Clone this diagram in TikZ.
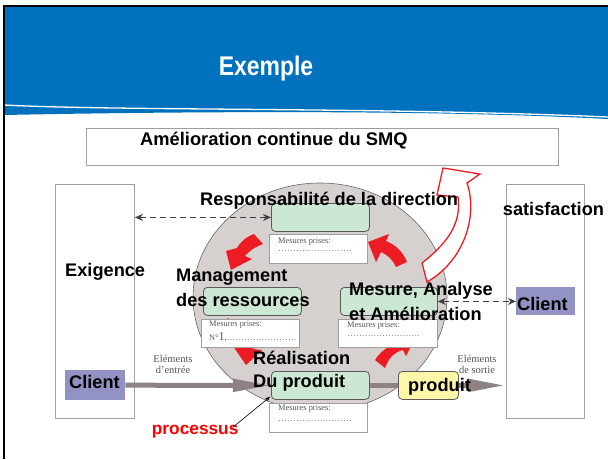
\documentclass[tikz,border=0pt]{standalone}
\usepackage{fontspec}
\setmainfont{Liberation Serif}
\newfontfamily\headfont{Liberation Sans}
\usetikzlibrary{arrows.meta}

\definecolor{headblue}{HTML}{0071BC}
\definecolor{ellgray}{HTML}{D6D0CE}
\definecolor{boxgreen}{HTML}{CDE7D5}
\definecolor{boxedge}{HTML}{5A5A5A}
\definecolor{clientpurple}{HTML}{9292C4}
\definecolor{prodyellow}{HTML}{FFF7A8}
\definecolor{flowgray}{HTML}{8F8282}
\definecolor{arrowred}{HTML}{EC1C24}
\definecolor{framegray}{HTML}{A0A0A0}
\definecolor{notetext}{HTML}{555555}

% dot leaders of a given width
\newcommand{\dotrow}[1]{\makebox[#1][l]{\xleaders\hbox to 2.9pt{\hss.\hss}\hfill}}

\tikzset{
  lbl/.style={font=\headfont\bfseries\fontsize{18.2}{21}\selectfont, inner sep=0pt, anchor=base west},
  note/.style={font=\fontsize{8.4}{10}\selectfont, text=notetext, inner sep=0pt, anchor=base west},
  small/.style={font=\fontsize{10.5}{12}\selectfont, text=notetext, inner sep=0pt, anchor=base},
  frame/.style={draw=framegray, fill=white, line width=0.9pt, anchor=north west, inner sep=0pt},
  greenbox/.style={draw=boxedge, fill=boxgreen, rounded corners=4pt, line width=0.8pt, anchor=north west, inner sep=0pt},
  notebox/.style={draw=gray!75, fill=white, line width=0.8pt, anchor=north west, inner sep=0pt},
  clientbox/.style={fill=clientpurple, anchor=north west, inner sep=0pt},
  prodbox/.style={draw=boxedge, fill=prodyellow, rounded corners=4pt, line width=0.8pt, anchor=north west, inner sep=0pt},
  redarrow/.style={fill=arrowred},
  flow/.style={draw=flowgray, line width=5pt, -{Triangle[length=38pt,width=12pt]}},
  link/.style={draw=black!75, line width=1.7pt, dash pattern=on 6pt off 4pt, {Stealth[length=8pt,width=7pt]}-{Stealth[length=8pt,width=7pt]}},
}

\begin{document}
\begin{tikzpicture}[x=1pt,y=-1pt]
\useasboundingbox (0,0) rectangle (608,459);
\fill[white] (0,0) rectangle (608,459);

% header band
\fill[headblue] (4,7) -- (608,7) -- (608,119) .. controls (420,109) and (150,112) .. (4,115) -- cycle;
\draw[white, line width=1.3pt] (4,105) .. controls (120,111) and (380,107) .. (608,117);
\node[font=\headfont\bfseries\fontsize{27}{30}\selectfont, text=white, anchor=base, inner sep=0pt] (title) at (266,75) {\scalebox{0.85}[1]{Exemple}};

% slide frame
\draw[black, line width=2.2pt] (4,459) -- (4,6) -- (608,6);

% top box
\node[frame, minimum width=472pt, minimum height=37pt] (amel) at (86,128) {};
\node[font=\headfont\bfseries\fontsize{18.3}{21}\selectfont, inner sep=0pt, anchor=base west] (ameltxt) at (140,145) {Amélioration continue du SMQ};

% side boxes
\node[frame, minimum width=79pt, minimum height=234pt] (leftbox) at (55,184) {};
\node[frame, minimum width=78pt, minimum height=234pt] (rightbox) at (506,184) {};

% process disc
\fill[ellgray] (320,297) ellipse [x radius=127, y radius=114];
\draw[gray!80!black, line width=0.6pt] (320,297) ellipse [x radius=127, y radius=114];

% cycle arrows
\fill[redarrow] (254,234) .. controls (246,237) and (240,242) .. (237,248) -- (226,251) -- (231,270) -- (252,259) -- (245,256) .. controls (249,251) and (255,247) .. (263,244) -- cycle;
\fill[redarrow] (368,242) -- (389,234) -- (386,241) .. controls (396,245) and (403,252) .. (407,262) -- (396,267) .. controls (393,260) and (388,255) .. (381,252) -- (376,262) -- cycle;
\fill[redarrow] (222,328) .. controls (230,332) and (236,338) .. (240,347) -- (233,346) -- (246,365) -- (262,350) -- (253,349) .. controls (249,337) and (240,326) .. (228,318) -- cycle;
\fill[redarrow] (375,360) .. controls (380,352) and (388,346) .. (398,343) -- (395,336) -- (415,338) -- (406,356) -- (403,350) .. controls (395,352) and (389,357) .. (385,368) -- cycle;

% continual improvement arrow
\draw[arrowred, fill=white, line width=1.3pt, line join=miter]
  (422,263) .. controls (445,245) and (462,225) .. (458,197) -- (437,195) -- (443,168) -- (480,174) -- (467,183)
  .. controls (478,215) and (465,260) .. (427,282) -- cycle;

% boxes
\node[clientbox, minimum width=60pt, minimum height=30pt] (clientL) at (65,370) {};
\node[clientbox, minimum width=59pt, minimum height=28pt] (clientR) at (516,287) {};
\node[greenbox, minimum width=98pt, minimum height=28pt] (resp) at (271,203) {};
\node[greenbox, minimum width=98pt, minimum height=28pt] (mgmt) at (203,287) {};
\node[greenbox, minimum width=97pt, minimum height=28pt] (mes) at (340,287) {};
\node[greenbox, minimum width=98pt, minimum height=28pt] (real) at (271,371) {};

% flows in and out
\draw[flow] (clientL.east) -- (real.west);
\draw[flow] (real.east) -- (real.east -| rightbox.west);
\node[prodbox, minimum width=60pt, minimum height=28pt] (prod) at (398,371) {};

% measure notes
\node[notebox, minimum width=98pt, minimum height=29pt] (note1) at (269,234) {};
\node[notebox, minimum width=98pt, minimum height=28pt] (note2) at (201,319) {};
\node[notebox, minimum width=99pt, minimum height=28pt] (note3) at (338,319) {};
\node[notebox, minimum width=98pt, minimum height=29pt] (note4) at (269,403) {};

\node[note] (n1a) at (278,243.3) {Mesures prises:};
\node[note] (n1b) at (278,251.7) {\dotrow{74pt}};
\node[note] (n2a) at (209,326.7) {Mesures prises:};
\node[note] (n2b) at (209,340) {N°{\fontsize{12}{12}\selectfont 1},\dotrow{70pt}};
\node[note] (n3a) at (347,327.5) {Mesures prises:};
\node[note] (n3b) at (347,336.7) {\dotrow{73pt}};
\node[note] (n4a) at (278,410.7) {Mesures prises:};
\node[note] (n4b) at (278,421.7) {\dotrow{74pt}};

% information links
\draw[link] (resp.west) -- (resp.west -| leftbox.east);
\draw[link] (mes.east) -- (mes.east -| clientR.west);

% labels
\node[lbl] (tresp) at (200,205) {Responsabilité de la direction};
\node[lbl] (texig) at (65,276.7) {Exigence};
\node[lbl] (tmg1) at (176,281.7) {Management};
\node[lbl] (tmg2) at (176,306) {des ressources};
\node[lbl] (tmes1) at (349,295) {Mesure, Analyse};
\node[lbl] (tmes2) at (349,320.5) {et Amélioration};
\node[lbl] (treal1) at (253,364) {Réalisation};
\node[lbl] (treal2) at (253,387) {Du produit};
\node[lbl] (tprod) at (408,391.7) {produit};
\node[lbl] (tsat) at (502.7,215) {satisfaction};
\node[lbl] (tcliR) at (517,310.7) {Client};
\node[lbl] (tcliL) at (69,388) {Client};
\node[lbl, text=red, font=\headfont\bfseries\fontsize{17.3}{20}\selectfont] (proc) at (151.7,434) {processus};

\node[small] (in1) at (173,362) {Eléments};
\node[small] (in2) at (173,373) {d'entrée};
\node[small] (out1) at (477,362) {Eléments};
\node[small] (out2) at (477,373) {de sortie};

% pointer from the process label
\draw[black, line width=0.6pt, -{Stealth[length=5pt,width=4pt]}] ([xshift=-6pt,yshift=-3pt]proc.north east) -- ([xshift=-1pt,yshift=3pt]real.south west);
\end{tikzpicture}
\end{document}
